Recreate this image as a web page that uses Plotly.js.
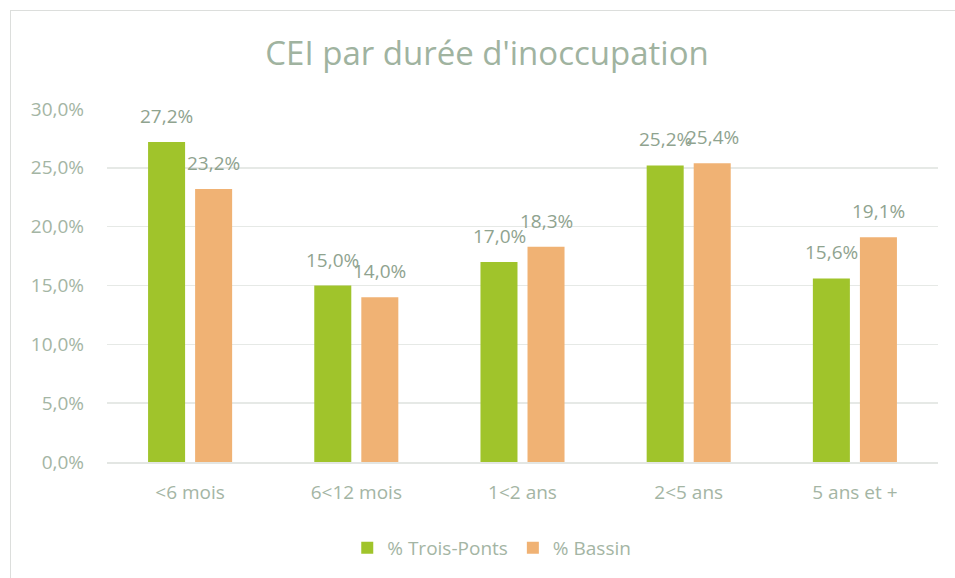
<!DOCTYPE html>
<html><head><meta charset="utf-8">
<script src="https://cdn.plot.ly/plotly-3.0.1.min.js"></script>
<style>
html,body{margin:0;padding:0;background:#fff;}
#frame{position:absolute;left:10px;top:10px;width:960px;height:600px;border:1.5px solid #DCDEDC;box-sizing:border-box;pointer-events:none;}
#chart{width:955px;height:578px;}
</style>
</head><body>
<div id="chart"></div>
<div id="frame"></div>
<script>
const categories = ['<6 mois', '6<12 mois', '1<2 ans', '2<5 ans', '5 ans et +'];
const troisPonts = [27.2, 15.0, 17.0, 25.2, 15.6];
const bassin = [23.2, 14.0, 18.3, 25.4, 19.1];
const seriesNames = ['% Trois-Ponts', '% Bassin'];
const yTicks = [0, 5, 10, 15, 20, 25, 30];

const fmt = v => v.toFixed(1).replace('.', ',') + '%';
const textColor = '#A4B5A4';
const labelColor = '#8FA38F';
const font = 'Open Sans, sans-serif';

const traces = [
  {type:'bar', name:seriesNames[0], x:categories, y:troisPonts, marker:{color:'#A0C42B'}, hoverinfo:'skip'},
  {type:'bar', name:seriesNames[1], x:categories, y:bassin, marker:{color:'#F0B274'}, hoverinfo:'skip'}
];

const annotations = [];
[troisPonts, bassin].forEach((arr, si) => {
  arr.forEach((v, i) => {
    annotations.push({
      x: categories[i], y: v, xref:'x', yref:'y',
      text: fmt(v), showarrow:false,
      xshift: si === 0 ? -23.5 : 23.5, yshift: 26,
      yanchor:'middle', xanchor:'center',
      font:{family:font, size:19, color:labelColor}
    });
  });
});

const layout = {
  width:955, height:578,
  margin:{l:107, r:17, t:109, b:115},
  paper_bgcolor:'#fff', plot_bgcolor:'#fff',
  title:{text:"CEI par durée d'inoccupation", x:0.51, xanchor:'center', xref:'container', y:0.908, yanchor:'middle',
    font:{family:font, size:33, color:'#A0B3A0'}},
  barmode:'group', bargap:0.434, bargroupgap:0.213,
  xaxis:{type:'category', showgrid:false, zeroline:false, showline:true, linecolor:'#E3E6E3', linewidth:1.5,
    tickfont:{family:font, size:19, color:textColor}, ticks:'', ticklabelstandoff:13},
  yaxis:{range:[0,30], tickvals:yTicks, ticktext:yTicks.map(v => v.toFixed(1).replace('.', ',') + '%'),
    showgrid:true, gridcolor:'#E6E9E6', gridwidth:1.5, zeroline:false, showline:false,
    tickfont:{family:font, size:19, color:textColor}, ticks:'', ticklabelstandoff:22},
  showlegend:true,
  legend:{orientation:'h', x:0.463, xanchor:'center', y:-0.24, yanchor:'middle',
    font:{family:font, size:19, color:textColor}, itemwidth:30, traceorder:'normal'},
  annotations: annotations
};

Plotly.newPlot('chart', traces, layout, {displayModeBar:false, staticPlot:true});
</script>
</body></html>
